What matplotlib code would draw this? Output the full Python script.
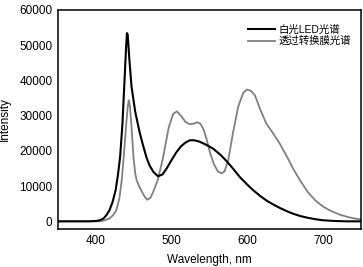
import matplotlib
matplotlib.use("Agg")
import matplotlib.pyplot as plt

plt.rcParams['font.family'] = ['Liberation Sans', 'Noto Sans CJK SC', 'DejaVu Sans']

# white LED spectrum
led_wl = [350, 390, 400, 405, 410, 414, 418, 422, 426, 429, 432, 435, 438, 440, 441,
          442, 444, 447, 452, 458, 463, 467, 471, 476, 482, 488, 494, 500, 506, 512,
          518, 524, 530, 537, 545, 555, 565, 573, 581, 590, 600, 608, 617, 626, 635,
          643, 652, 660, 670, 680, 690, 700, 715, 730, 750]
led_int = [0, 0, 100, 300, 800, 1800, 3200, 5500, 8800, 13000, 18400, 27500, 41000, 50000, 53400,
           53000, 46500, 38300, 31000, 25000, 21000, 18000, 15800, 14000, 12800, 13300, 15200, 17400, 19500, 21200,
           22300, 23000, 23000, 22600, 21800, 20600, 18800, 17000, 15000, 12600, 10400, 8800, 7200, 5800, 4700,
           3800, 2900, 2200, 1500, 1000, 600, 300, 100, 0, 0]

# spectrum through the conversion film
film_wl = [350, 405, 412, 418, 423, 427, 431, 434, 437, 440, 442, 443.5, 445, 447, 449.5,
           452, 454, 457, 461, 465, 468, 472, 476, 482, 489, 496, 502, 507, 513, 518,
           523, 529, 534, 538, 542, 546, 551, 556, 561, 566, 570, 575, 581, 588, 595,
           600, 605, 610, 617, 625, 634, 643, 652, 661, 670, 680, 690, 700, 710, 722,
           735, 750]
film_int = [0, 0, 300, 850, 1800, 3200, 6500, 11500, 19000, 27500, 32500, 34400, 32500, 27000, 18500,
            13500, 11500, 10000, 8300, 6800, 6100, 6700, 8500, 11900, 18400, 26500, 30500, 31200, 29800, 28300,
            27600, 27700, 28100, 27700, 26200, 23500, 19300, 16200, 14200, 13600, 14200, 17500, 25000, 32600, 36600,
            37400, 37000, 35800, 31800, 27800, 25000, 22000, 18500, 14800, 11500, 8300, 5900, 4200, 3000, 1900,
            1100, 500]

legend_labels = ['白光LED光谱', '透过转换膜光谱']
x_ticks = [400, 500, 600, 700]
y_ticks = [0, 10000, 20000, 30000, 40000, 50000, 60000]

fig = plt.figure(figsize=(3.63, 2.67), dpi=100)
ax = fig.add_axes([0.16, 0.142, 0.834, 0.821])

ax.plot(film_wl, film_int, color='#808080', lw=1.3, label=legend_labels[1])
ax.plot(led_wl, led_int, color='black', lw=1.5, label=legend_labels[0])

ax.set_xlim(350, 750)
ax.set_ylim(-2200, 60000)
ax.set_xticks(x_ticks)
ax.set_yticks(y_ticks)
ax.tick_params(length=0, labelsize=8.5, pad=4)
for s in ax.spines.values():
    s.set_linewidth(1.1)

ax.set_xlabel('Wavelength, nm', fontsize=8.5, labelpad=5)
ax.set_ylabel('Intensity', fontsize=8.5, labelpad=6)

h, l = ax.get_legend_handles_labels()
ax.legend(h[::-1], l[::-1], loc='upper right', frameon=False, fontsize=7.5,
          handlelength=2.6, handletextpad=0.4, labelspacing=0.1,
          bbox_to_anchor=(1.0, 0.975))

fig.savefig('out.png', dpi=100)
